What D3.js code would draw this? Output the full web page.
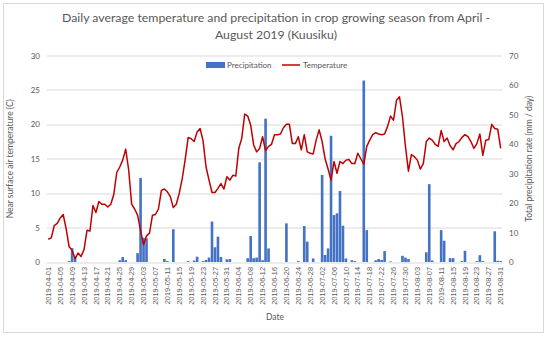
<!DOCTYPE html>
<html>
<head>
<meta charset="utf-8">
<script src="https://cdn.jsdelivr.net/npm/d3@7"></script>
<style>
  body { margin: 0; background: #fff; }
  text { font-family: Lato, "Liberation Sans", sans-serif; fill: #595959; }
  .grid line { stroke: #d9d9d9; stroke-width: 1; }
  .tick text { font-size: 8px; }
  .xaxis text { font-family: "Liberation Sans", sans-serif; font-size: 7.4px; }
</style>
</head>
<body>
<div id="vis"></div>
<script>
// daily values, 2019-04-01 .. 2019-08-31
var temperature = [
  3.3,3.5,5.3,5.6,6.4,6.9,4.8,2.2,1.7,0.5,
  1.3,0.8,1.8,4.6,4.5,8.2,7.2,8.8,8.4,8.4,
  8.0,8.4,9.8,13.0,13.8,14.8,16.4,13.4,8.4,7.7,
  6.8,4.6,2.5,3.8,4.2,6.8,6.9,7.7,10.4,10.6,
  10.2,9.5,7.9,8.4,10.0,12.1,14.9,18.1,17.9,17.5,
  18.9,19.4,17.6,13.8,11.9,10.1,10.1,10.7,11.4,10.6,
  12.4,11.9,12.6,12.5,16.5,18.0,21.5,21.2,19.9,17.0,
  16.0,16.5,18.2,16.2,16.8,17.1,18.5,18.5,18.6,19.5,
  20.0,20.0,17.2,17.2,18.2,16.3,18.5,16.0,15.8,15.7,
  17.7,19.2,17.5,15.0,13.5,11.9,14.6,12.9,14.6,14.3,
  14.8,14.9,14.3,14.3,15.8,15.0,14.2,16.8,17.7,18.5,
  18.8,18.6,18.5,18.6,19.7,21.2,20.6,23.5,24.0,21.1,
  16.8,13.2,15.6,15.3,14.8,13.5,14.3,17.5,18.0,17.7,
  17.1,16.8,19.1,17.5,18.0,16.9,16.3,17.2,17.5,18.1,
  18.5,18.2,17.5,16.5,17.2,18.6,15.5,17.7,17.8,20.0,
  19.4,19.3,16.5
];

var precipitation = [
  0,0,0,0,0,0,0,0.3,4.7,1.8,
  0,0,0,0,0,0,0,0,0,0,
  0,0,0,0,0.6,1.7,0.6,0,0,0,
  3.0,28.5,8.2,8.0,0,0,0,0,0,1.0,
  0.3,0,11.1,0,0,0,0,0.3,0,0.5,
  1.8,0,0.3,0.7,1.5,13.7,5.0,8.6,1.7,0,
  0.9,1.0,0,0,0,0,0,1.3,8.8,1.3,
  1.5,33.8,0.6,48.6,4.6,0,0,0,0,0,
  13.1,0,0,0,0.3,0,12.2,6.9,0,1.2,
  0,0,29.5,2.4,4.6,42.8,15.9,16.5,24.1,12.3,
  1.2,0,0.6,0.3,0,0,61.5,10.8,0,0,
  0.6,1.0,0.7,3.7,0,0.2,0,0,0,2.1,
  1.5,1.0,0,0,0,0,0,3.3,26.4,0.5,
  0,0,10.8,7.2,0,1.3,1.3,0,0,0.3,
  3.8,0,0,0,0.3,2.3,0.3,0,0,0,
  10.4,0.4,0.3
];

var tempTicks = [0, 5, 10, 15, 20, 25, 30];
var precTicks = [0, 10, 20, 30, 40, 50, 60, 70];

var fmt = d3.timeFormat('%Y-%m-%d');
var dates = d3.timeDay.range(new Date(2019, 3, 1), new Date(2019, 8, 1)).map(fmt);
var dateTicks = dates.filter(function(d, i) { return i % 4 === 0; });

var width = 550, height = 338;
var margin = { left: 47, right: 48, top: 55.5, bottom: 76 };
var drawWidth = width - margin.left - margin.right;
var drawHeight = height - margin.top - margin.bottom;

var svg = d3.select('#vis').append('svg')
    .attr('width', width)
    .attr('height', height);

svg.append('rect')
    .attr('x', 3.5).attr('y', 3.5)
    .attr('width', 540).attr('height', 329)
    .attr('fill', '#fff')
    .attr('stroke', '#d9d9d9');

var g = svg.append('g')
    .attr('transform', 'translate(' + margin.left + ',' + margin.top + ')');

var xScale = d3.scaleBand().domain(dates).range([0, drawWidth]).paddingInner(0.12);
var yLeft = d3.scaleLinear().domain([0, 30]).range([drawHeight, 0]);
var yRight = d3.scaleLinear().domain([0, 70]).range([drawHeight, 0]);

// gridlines
g.append('g').attr('class', 'grid')
    .selectAll('line').data(tempTicks).enter().append('line')
    .attr('x1', 0).attr('x2', drawWidth)
    .attr('y1', function(d) { return Math.round(yLeft(d)) + 0.5; })
    .attr('y2', function(d) { return Math.round(yLeft(d)) + 0.5; });

// axes
var leftAxis = g.append('g')
    .call(d3.axisLeft(yLeft).tickValues(tempTicks).tickSize(0).tickPadding(7));
leftAxis.select('.domain').remove();

var rightAxis = g.append('g')
    .attr('transform', 'translate(' + drawWidth + ',0)')
    .call(d3.axisRight(yRight).tickValues(precTicks).tickSize(0).tickPadding(7));
rightAxis.select('.domain').remove();

var xAxis = g.append('g')
    .attr('class', 'xaxis')
    .attr('transform', 'translate(0,' + drawHeight + ')')
    .call(d3.axisBottom(xScale).tickValues(dateTicks).tickSize(0));
xAxis.select('.domain').remove();
xAxis.selectAll('text')
    .attr('y', 0)
    .attr('x', -5)
    .attr('dy', '0.35em')
    .attr('transform', 'rotate(-90)')
    .style('text-anchor', 'end');

// bars
g.selectAll('rect.bar').data(precipitation).enter().append('rect')
    .attr('class', 'bar')
    .attr('x', function(d, i) { return xScale(dates[i]); })
    .attr('width', xScale.bandwidth())
    .attr('y', function(d) { return yRight(d); })
    .attr('height', function(d) { return drawHeight - yRight(d); })
    .attr('fill', '#4472c4');

// temperature line
var line = d3.line()
    .x(function(d, i) { return xScale(dates[i]) + xScale.bandwidth() / 2; })
    .y(function(d) { return yLeft(d); });

g.append('path')
    .datum(temperature)
    .attr('d', line)
    .attr('fill', 'none')
    .attr('stroke', '#c00000')
    .attr('stroke-width', 1.5)
    .attr('stroke-linejoin', 'round');

// titles
svg.append('text')
    .attr('x', 276).attr('y', 22)
    .attr('text-anchor', 'middle')
    .style('font-size', '12.3px')
    .text('Daily average temperature and precipitation in crop growing season from April -');
svg.append('text')
    .attr('x', 276).attr('y', 39)
    .attr('text-anchor', 'middle')
    .style('font-size', '12.3px')
    .text('August 2019 (Kuusiku)');

svg.append('text')
    .attr('transform', 'translate(13,' + (margin.top + drawHeight / 2) + ') rotate(-90)')
    .attr('text-anchor', 'middle')
    .style('font-size', '8.5px')
    .text('Near surface air temperature (C)');

svg.append('text')
    .attr('transform', 'translate(532,' + (margin.top + drawHeight / 2) + ') rotate(-90)')
    .attr('text-anchor', 'middle')
    .style('font-size', '8.5px')
    .text('Total precipitation rate (mm / day)');

svg.append('text')
    .attr('x', 275).attr('y', 320)
    .attr('text-anchor', 'middle')
    .style('font-size', '8.5px')
    .text('Date');

// legend
var legend = svg.append('g');
legend.append('rect')
    .attr('x', 206).attr('y', 62).attr('width', 19).attr('height', 6)
    .attr('fill', '#4472c4');
legend.append('text')
    .attr('x', 227).attr('y', 68)
    .style('font-size', '8px')
    .text('Precipitation');
legend.append('line')
    .attr('x1', 282).attr('x2', 300).attr('y1', 65).attr('y2', 65)
    .attr('stroke', '#c00000').attr('stroke-width', 1.5);
legend.append('text')
    .attr('x', 303).attr('y', 68)
    .style('font-size', '8px')
    .text('Temperature');
</script>
</body>
</html>
